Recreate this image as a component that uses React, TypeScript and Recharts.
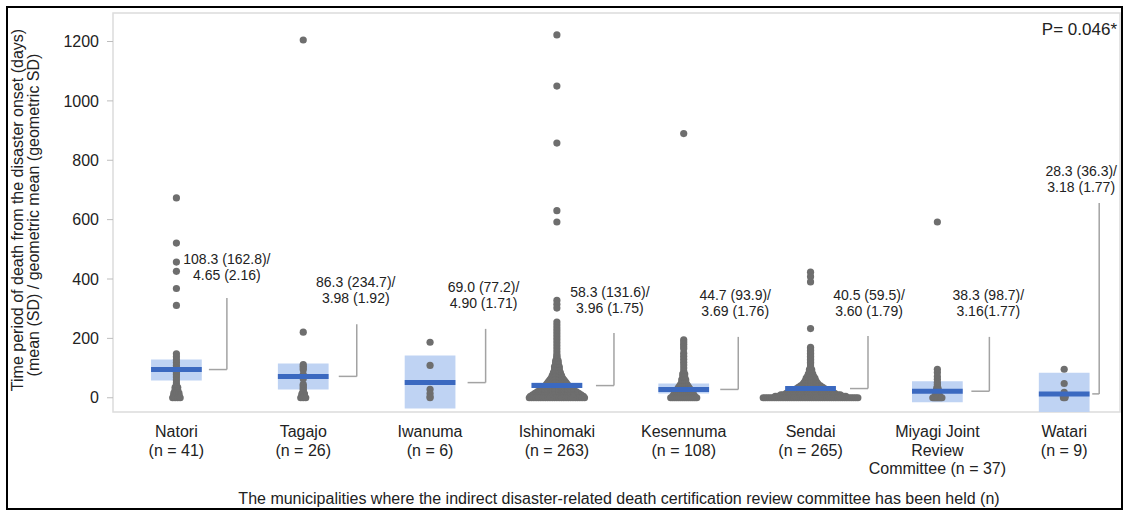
import React from "react";
import { ScatterChart, Scatter, XAxis, YAxis, ReferenceArea, ReferenceLine, ReferenceDot } from "recharts";

// municipalities (x categories)
const categories = ["Natori", "Tagajo", "Iwanuma", "Ishinomaki", "Kesennuma", "Sendai", "Miyagi Joint Review Committee", "Watari"];
const groupSizes = [41, 26, 6, 263, 108, 265, 37, 9];
const tickLabels = [
  ["Natori", "(n = 41)"],
  ["Tagajo", "(n = 26)"],
  ["Iwanuma", "(n = 6)"],
  ["Ishinomaki", "(n = 263)"],
  ["Kesennuma", "(n = 108)"],
  ["Sendai", "(n = 265)"],
  ["Miyagi Joint", "Review", "Committee (n = 37)"],
  ["Watari", "(n = 9)"],
];
const yTicks = [0, 200, 400, 600, 800, 1000, 1200];

// light blue box and the blue line across it (days)
const boxLow = [58, 28, -36, 34, 14, 14, -15, -48];
const boxHigh = [129, 115, 142, 51, 48, 38, 56, 84];
const centerLine = [95, 72, 51, 41, 28, 31, 22, 13];

// mean (SD) / geometric mean (geometric SD)
const statLine1 = ["108.3 (162.8)/", "86.3 (234.7)/", "69.0 (77.2)/", "58.3 (131.6)/", "44.7 (93.9)/", "40.5 (59.5)/", "38.3 (98.7)/", "28.3 (36.3)/"];
const statLine2 = ["4.65 (2.16)", "3.98 (1.92)", "4.90 (1.71)", "3.96 (1.75)", "3.69 (1.76)", "3.60 (1.79)", "3.16(1.77)", "3.18 (1.77)"];

// individual deaths, as [days, how many at that value]
const natori = [[673, 1], [521, 1], [457, 1], [426, 1], [368, 1], [311, 1], [148, 1], [138, 1], [128, 1], [118, 1], [108, 1], [100, 1], [92, 1], [85, 1], [78, 1], [70, 1], [60, 1], [50, 1], [42, 1], [35, 2], [28, 2], [22, 2], [16, 3], [10, 3], [6, 3], [3, 3], [0, 4]];
const tagajo = [[1205, 1], [221, 1], [112, 1], [106, 1], [100, 1], [94, 1], [78, 1], [70, 1], [64, 1], [45, 1], [40, 1], [34, 1], [28, 1], [22, 1], [17, 1], [13, 2], [9, 2], [5, 2], [2, 2], [0, 3]];
const iwanuma = [[187, 1], [109, 1], [28, 1], [14, 1], [3, 1], [0, 1]];
const ishinomaki = [[1222, 1], [1050, 1], [858, 1], [630, 1], [592, 1], [328, 1], [315, 1], [302, 1], [255, 1], [245, 1], [235, 1], [225, 1], [215, 1], [205, 1], [195, 1], [185, 1], [175, 1], [165, 1], [155, 1], [145, 1], [140, 1], [135, 1], [130, 1], [125, 2], [120, 2], [115, 2], [110, 2], [105, 3], [100, 3], [95, 3], [90, 3], [85, 4], [80, 4], [75, 5], [70, 5], [65, 6], [60, 7], [55, 8], [50, 9], [45, 10], [40, 11], [35, 12], [30, 14], [25, 16], [20, 18], [15, 20], [10, 22], [5, 24], [0, 25]];
const kesennuma = [[890, 1], [195, 1], [188, 1], [180, 1], [172, 1], [165, 1], [150, 1], [140, 1], [130, 1], [120, 1], [110, 1], [100, 1], [90, 1], [80, 2], [70, 2], [60, 3], [50, 3], [45, 4], [40, 5], [35, 6], [30, 7], [25, 8], [20, 9], [15, 10], [10, 11], [5, 12], [0, 14]];
const sendai = [[423, 1], [408, 1], [390, 1], [233, 1], [170, 1], [165, 1], [160, 1], [155, 1], [150, 1], [145, 1], [140, 1], [135, 1], [130, 1], [125, 1], [120, 1], [115, 1], [110, 1], [105, 1], [100, 1], [95, 2], [90, 2], [85, 2], [80, 3], [75, 3], [70, 4], [65, 5], [60, 5], [55, 6], [50, 7], [45, 8], [40, 10], [35, 12], [30, 14], [25, 16], [20, 19], [15, 23], [10, 28], [5, 33], [0, 44]];
const miyagi = [[592, 1], [96, 1], [85, 1], [72, 1], [62, 1], [52, 1], [45, 1], [38, 1], [32, 2], [26, 2], [20, 2], [15, 3], [10, 3], [6, 4], [3, 5], [0, 8]];
const watari = [[96, 1], [48, 1], [18, 1], [6, 2], [3, 2], [0, 2]];
const groups = [natori, tagajo, iwanuma, ishinomaki, kesennuma, sendai, miyagi, watari];

// layout only
const BAND_PX = 126.8;
const HALF_BOX = 0.2;
const dotGap = [2.5, 2.5, 2.5, 2.3, 2, 2.2, 1.3, 1.5];
const bracketX = [0.398, 0.422, 0.438, 0.45, 0.43, 0.453, 0.41, 0.276];
const bracketLen = [0.142, 0.142, 0.142, 0.142, 0.142, 0.142, 0.142, 0.055];
const bracketTop = [336, 248, 232, 218, 205, 208, 205, 656];
const labelX = [0.398, 0.414, 0.422, 0.418, 0.406, 0.461, 0.402, 0.134];
const labelY = [413, 336, 319, 302, 292, 292, 292, 710];

const FONT = '"Liberation Sans", Arial, sans-serif';
const DOT = "#6e6e6e";
const BOX = "#bfd3f3";
const LINE = "#3b69c0";
const BRACKET = "#a3a3a3";

const dots = groups.map((g, i) =>
  g.flatMap(([v, c]) =>
    Array.from({ length: c }, (_, k) => ({ x: i + ((k - (c - 1) / 2) * dotGap[i]) / BAND_PX, y: v }))
  )
);

const CategoryTick = (props: any) => {
  const { x, y, payload } = props;
  const lines = tickLabels[payload.value] || [];
  return (
    <g>
      {lines.map((t, j) => (
        <text key={j} x={x} y={y + 25 + j * 18.7} textAnchor="middle" fontSize={16} fill="#222">
          {t}
        </text>
      ))}
    </g>
  );
};

const StatLabel = (i: number) => (p: any) => (
  <g>
    <text x={p.cx} y={p.cy - 11} textAnchor="middle" fontSize={14} fill="#222">{statLine1[i]}</text>
    <text x={p.cx} y={p.cy + 5} textAnchor="middle" fontSize={14} fill="#222">{statLine2[i]}</text>
  </g>
);

export default function App() {
  return (
    <div style={{ position: "absolute", left: 0, top: 0, width: 1126, height: 514, background: "#fff", fontFamily: FONT }}>
      <div style={{ position: "absolute", left: 6, top: 6, width: 1117, height: 504, border: "2px solid #000", boxSizing: "border-box" }} />
      <ScatterChart width={1126} height={514} margin={{ top: 13, right: 6, bottom: 42, left: 53 }}>
        <XAxis
          type="number"
          dataKey="x"
          domain={[-0.5, 7.44]}
          ticks={[0, 1, 2, 3, 4, 5, 6, 7]}
          interval={0}
          allowDataOverflow
          axisLine={false}
          tickLine={false}
          tickSize={0}
          tickMargin={0}
          height={60}
          tick={<CategoryTick />}
        />
        <YAxis
          type="number"
          dataKey="y"
          domain={[-48, 1296]}
          ticks={yTicks}
          allowDataOverflow
          width={60}
          axisLine={false}
          tickSize={6}
          tickMargin={8}
          tickLine={{ stroke: "#bdbdbd" }}
          tick={{ fill: "#222", fontSize: 16 }}
        />
        <ReferenceArea x1={-0.5} x2={7.44} y1={-48} y2={1296} fill="none" stroke="#dcdcdc" strokeWidth={1.5} zIndex={-100} />
        {categories.map((c, i) => (
          <ReferenceArea key={"box" + c} x1={i - HALF_BOX} x2={i + HALF_BOX} y1={boxLow[i]} y2={boxHigh[i]} fill={BOX} fillOpacity={1} stroke="none" zIndex={50} />
        ))}
        {dots.map((d, i) => (
          <Scatter
            key={"dots" + i}
            name={`${categories[i]} (n = ${groupSizes[i]})`}
            data={d}
            isAnimationActive={false}
            shape={(p: any) => <circle cx={p.cx} cy={p.cy} r={3.6} fill={DOT} />}
          />
        ))}
        {categories.map((c, i) => (
          <ReferenceLine
            key={"mean" + c}
            segment={[{ x: i - HALF_BOX, y: centerLine[i] }, { x: i + HALF_BOX, y: centerLine[i] }]}
            stroke={LINE}
            strokeWidth={5}
            zIndex={700}
          />
        ))}
        {categories.map((c, i) => (
          <ReferenceLine
            key={"bh" + c}
            segment={[{ x: i + bracketX[i] - bracketLen[i], y: centerLine[i] }, { x: i + bracketX[i], y: centerLine[i] }]}
            stroke={BRACKET}
            strokeWidth={1.5}
            zIndex={700}
          />
        ))}
        {categories.map((c, i) => (
          <ReferenceLine
            key={"bv" + c}
            segment={[{ x: i + bracketX[i], y: centerLine[i] }, { x: i + bracketX[i], y: bracketTop[i] }]}
            stroke={BRACKET}
            strokeWidth={1.5}
            zIndex={700}
          />
        ))}
        {categories.map((c, i) => (
          <ReferenceDot key={"lab" + c} x={i + labelX[i]} y={labelY[i]} r={0} shape={StatLabel(i)} zIndex={2000} />
        ))}
      </ScatterChart>
      <svg width={1126} height={514} style={{ position: "absolute", left: 0, top: 0, pointerEvents: "none" }}>
        <text transform="translate(17.5,210) rotate(-90)" textAnchor="middle" dy="0.35em" fontSize={16} fill="#222">
          Time period of death from the disaster onset (days)
        </text>
        <text transform="translate(33.5,215) rotate(-90)" textAnchor="middle" dy="0.35em" fontSize={16} fill="#222">
          (mean (SD) / geometric mean (geometric SD)
        </text>
        <text x={619} y={504} textAnchor="middle" fontSize={16} fill="#222">
          The municipalities where the indirect disaster-related death certification review committee has been held (n)
        </text>
        <text x={1117} y={35} textAnchor="end" fontSize={17} fill="#222">
          P= 0.046*
        </text>
      </svg>
    </div>
  );
}
